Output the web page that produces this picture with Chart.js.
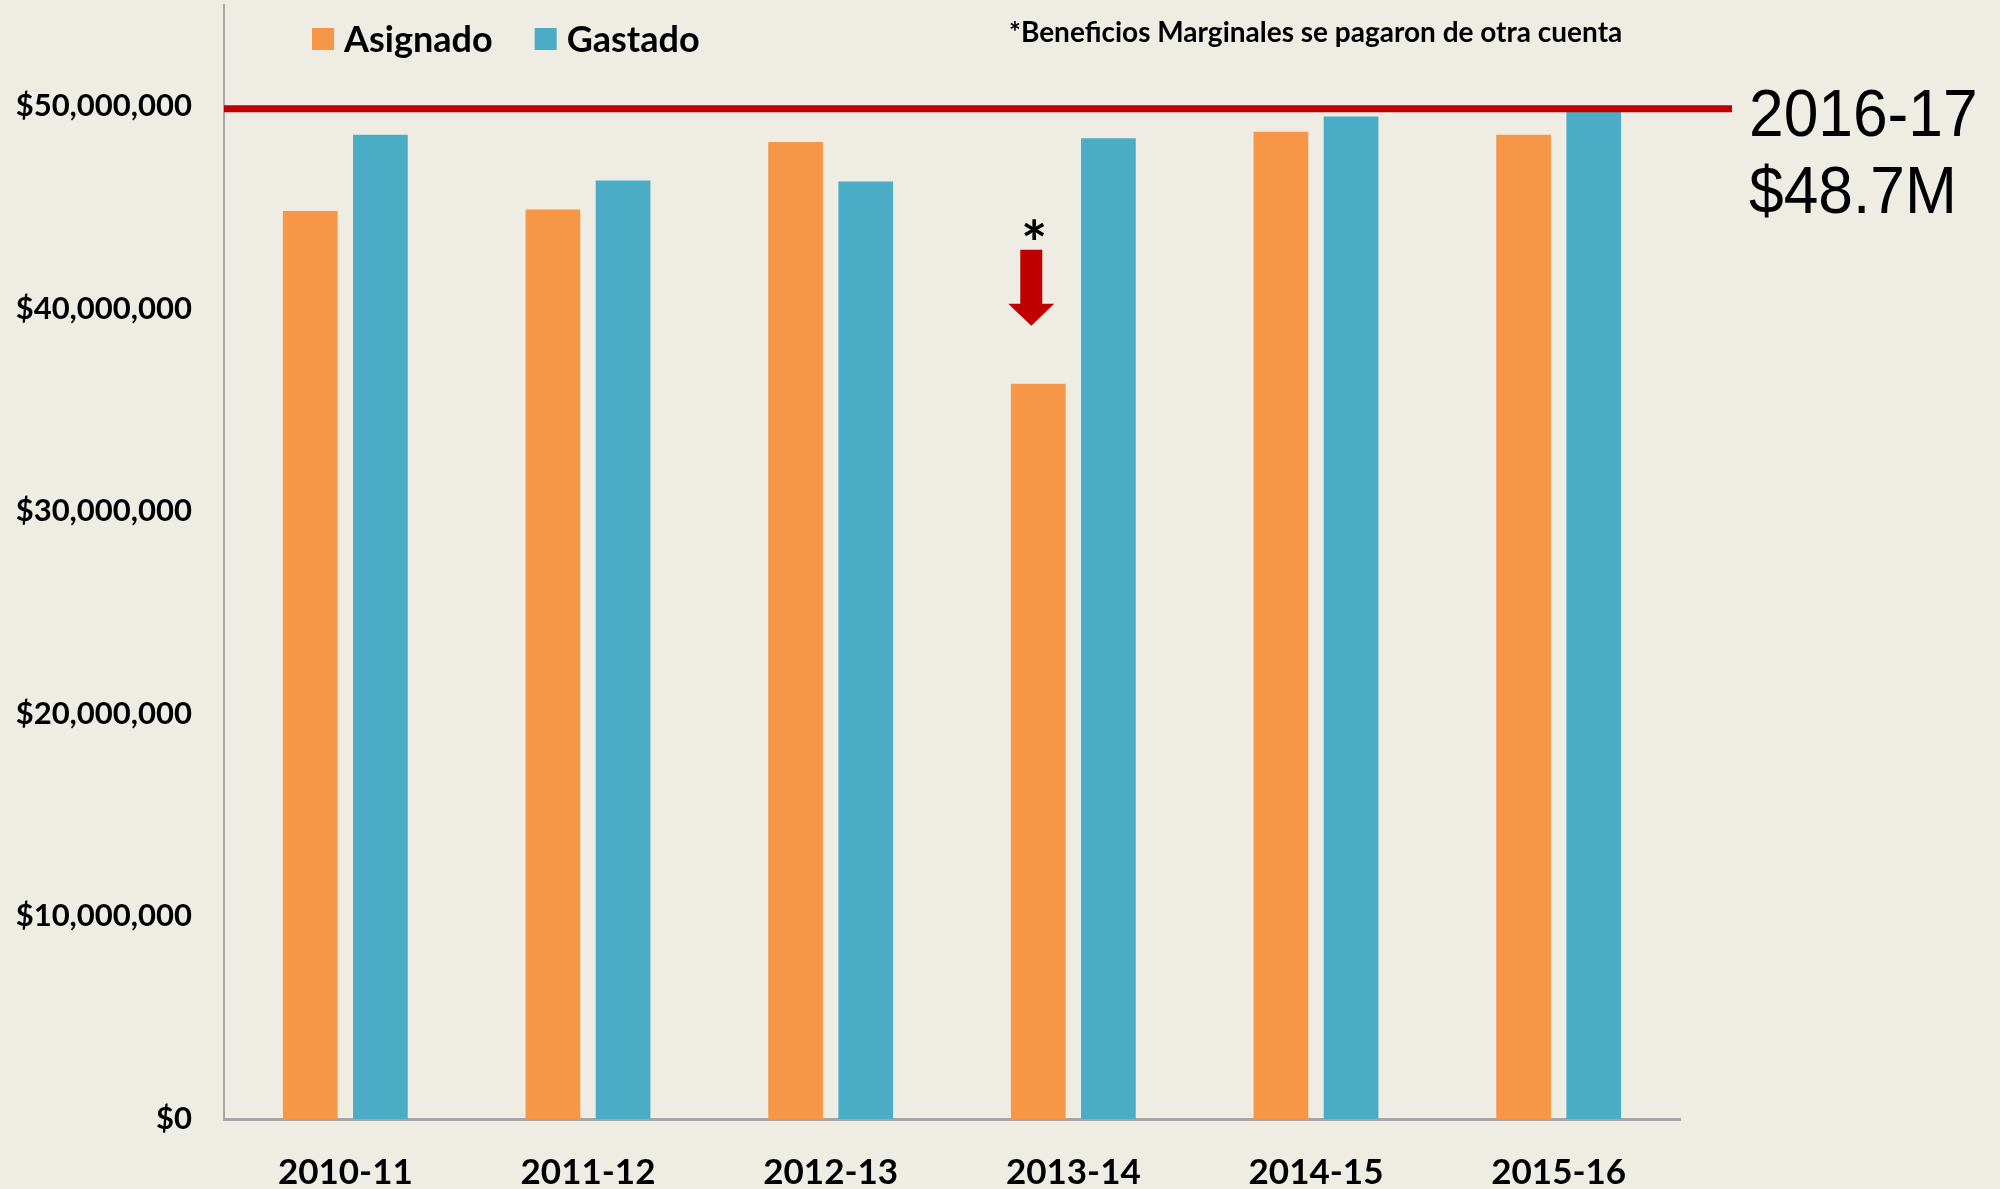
<!DOCTYPE html>
<html>
<head>
<meta charset="utf-8">
<script src="https://cdn.jsdelivr.net/npm/chart.js@4"></script>
<style>
  html, body { margin: 0; padding: 0; background: #EFECE4; }
  #wrap { width: 2000px; height: 1189px; }
</style>
</head>
<body>
<div id="wrap"><canvas id="myChart" width="2000" height="1189"></canvas></div>
<script>
// data
var categories = ['2010-11', '2011-12', '2012-13', '2013-14', '2014-15', '2015-16'];
var asignado = [44830000, 44900000, 48230000, 36300000, 48740000, 48600000];
var gastado = [48600000, 46340000, 46280000, 48420000, 49490000, 49750000];
var yTicks = [0, 10000000, 20000000, 30000000, 40000000, 50000000];
var yMax = 55000000;
var budgetLine = 49880000;
var budgetText = ['2016-17', '$48.7M'];
var footnote = '*Beneficios Marginales se pagaron de otra cuenta';
var markedBar = 3; // 2013-14 asignado

var ORANGE = '#F79646', BLUE = '#4BACC6', RED = '#C00000';
var FONT = 'Lato, "Open Sans", sans-serif';

var extrasPlugin = {
  id: 'extras',
  afterDatasetsDraw: function (chart) {
    var ctx = chart.ctx, area = chart.chartArea;
    var y = chart.scales.y.getPixelForValue(budgetLine);
    var lineEnd = area.right + 52;

    ctx.save();
    // red budget line
    ctx.strokeStyle = RED;
    ctx.lineWidth = 7;
    ctx.beginPath();
    ctx.moveTo(area.left, y);
    ctx.lineTo(lineEnd, y);
    ctx.stroke();

    // 2016-17 label
    ctx.fillStyle = '#000';
    ctx.font = '67px "Liberation Sans", Arial, sans-serif';
    ctx.textBaseline = 'alphabetic';
    ctx.textAlign = 'left';
    ctx.save();
    ctx.translate(lineEnd + 17, 0);
    ctx.scale(0.93, 1);
    ctx.fillText(budgetText[0], 0, y + 27);
    ctx.fillText(budgetText[1], 0, y + 104);
    ctx.restore();

    // arrow + asterisk over the 2013-14 bar
    var bar = chart.getDatasetMeta(0).data[markedBar];
    var cx = bar.x - 7, top = bar.y;
    ctx.fillStyle = RED;
    ctx.beginPath();
    ctx.moveTo(cx - 11, top - 134);
    ctx.lineTo(cx + 11, top - 134);
    ctx.lineTo(cx + 11, top - 80);
    ctx.lineTo(cx + 23, top - 80);
    ctx.lineTo(cx, top - 58);
    ctx.lineTo(cx - 23, top - 80);
    ctx.lineTo(cx - 11, top - 80);
    ctx.closePath();
    ctx.fill();

    ctx.fillStyle = '#000';
    ctx.font = 'bold 62px ' + FONT;
    ctx.textAlign = 'center';
    var m = ctx.measureText('*');
    var cy = top - 154;
    ctx.fillText('*', cx + 3, cy + (m.actualBoundingBoxAscent - m.actualBoundingBoxDescent) / 2);

    // legend
    var lx = area.left + 88;
    ctx.textAlign = 'left';
    ctx.textBaseline = 'middle';
    ctx.font = 'bold 36px ' + FONT;
    chart.data.datasets.forEach(function (ds) {
      ctx.fillStyle = ds.backgroundColor;
      ctx.fillRect(lx, 28, 22, 22);
      ctx.fillStyle = '#000';
      ctx.fillText(ds.label, lx + 32, 40);
      lx += 32 + ctx.measureText(ds.label).width + 42;
    });

    // footnote
    ctx.font = 'bold 28px ' + FONT;
    ctx.fillText(footnote, 1009, 33);
    ctx.restore();
  }
};

function renderChart() {
  var ctx = document.getElementById('myChart').getContext('2d');
  var myChart = new Chart(ctx, {
    type: 'bar',
    data: {
      labels: categories,
      datasets: [
        { label: 'Asignado', data: asignado, backgroundColor: ORANGE },
        { label: 'Gastado', data: gastado, backgroundColor: BLUE }
      ]
    },
    options: {
      responsive: false,
      animation: false,
      categoryPercentage: 0.578,
      barPercentage: 0.78,
      layout: { padding: { top: 5, right: 320, left: 0, bottom: 0 } },
      plugins: { legend: { display: false }, tooltip: { enabled: false } },
      scales: {
        x: {
          grid: { display: false, drawTicks: false },
          border: { display: true, color: '#A6A6A6', width: 3 },
          ticks: { color: '#000', font: { family: FONT, weight: 'bold', size: 35 }, padding: 33 },
          afterFit: function (s) { s.height = 70; }
        },
        y: {
          min: 0,
          max: yMax,
          afterBuildTicks: function (s) { s.ticks = yTicks.map(function (v) { return { value: v }; }); },
          grid: { display: false, drawTicks: false },
          border: { display: true, color: '#A6A6A6', width: 2 },
          ticks: {
            color: '#000',
            font: { family: FONT, weight: 'bold', size: 31 },
            padding: 32,
            callback: function (v) { return '$' + Number(v).toLocaleString('en-US'); }
          },
          afterFit: function (s) { s.width = 224; s.paddingTop = 0; s.paddingBottom = 0; }
        }
      }
    },
    plugins: [extrasPlugin]
  });
}

renderChart();
</script>
</body>
</html>
